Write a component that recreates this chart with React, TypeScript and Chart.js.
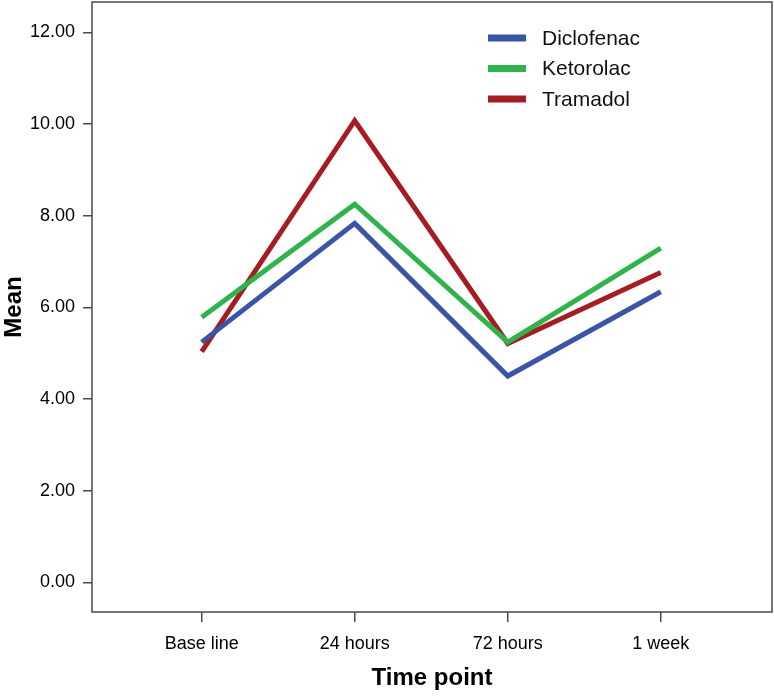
import React, { useEffect, useRef } from 'react';
import { Chart, registerables } from 'chart.js';
Chart.register(...registerables);

const timePoints = ['Base line', '24 hours', '72 hours', '1 week'];
const diclofenac = [5.24, 7.83, 4.5, 6.34];
const ketorolac = [5.78, 8.25, 5.24, 7.29];
const tramadol = [5.03, 10.07, 5.21, 6.76];
const yTicks = [0, 2, 4, 6, 8, 10, 12];
const seriesNames = ['Diclofenac', 'Ketorolac', 'Tramadol'];
const seriesColors = ['#3b55a6', '#2fb34b', '#a51c22'];

const frameColor = '#4a4a4a';
const tickFont = '"Liberation Sans", Arial, sans-serif';

const framePlugin = {
  id: 'frame',
  afterDraw(chart: any) {
    const { ctx, chartArea } = chart;
    ctx.save();
    ctx.strokeStyle = frameColor;
    ctx.lineWidth = 1.5;
    ctx.strokeRect(chartArea.left, chartArea.top, chartArea.right - chartArea.left, chartArea.bottom - chartArea.top);
    ctx.restore();
  },
};

const legendPlugin = {
  id: 'customLegend',
  afterDraw(chart: any) {
    const { ctx } = chart;
    ctx.save();
    chart.data.datasets.forEach((ds: any, i: number) => {
      const y = 38 + i * 30.5;
      ctx.strokeStyle = ds.borderColor;
      ctx.lineWidth = 7;
      ctx.beginPath();
      ctx.moveTo(488, y);
      ctx.lineTo(526, y);
      ctx.stroke();
      ctx.fillStyle = '#111';
      ctx.font = '21px "Liberation Sans", Arial, sans-serif';
      ctx.textBaseline = 'middle';
      ctx.textAlign = 'left';
      ctx.fillText(ds.label, 542, y + 1);
    });
    ctx.restore();
  },
};

export default function App() {
  const ref = useRef<HTMLCanvasElement>(null);
  useEffect(() => {
    if (!ref.current) return;
    const seriesValues = [diclofenac, ketorolac, tramadol];
    const chart = new Chart(ref.current, {
      type: 'line',
      data: {
        datasets: seriesValues.map((vals, i) => ({
          label: seriesNames[i],
          data: vals.map((v, j) => ({ x: j, y: v })),
          borderColor: seriesColors[i],
          backgroundColor: seriesColors[i],
          borderWidth: 5,
          pointRadius: 0,
          tension: 0,
          fill: false,
          borderJoinStyle: 'miter',
        })),
      },
      options: {
        responsive: false,
        animation: false,
        layout: { padding: { top: 2, right: 2, left: 0, bottom: 0 } },
        plugins: {
          legend: { display: false },
          tooltip: { enabled: false },
        },
        scales: {
          x: {
            type: 'linear',
            min: -0.717,
            max: 3.727,
            afterBuildTicks: (scale: any) => {
              scale.ticks = timePoints.map((_, i) => ({ value: i }));
            },
            afterFit: (scale: any) => {
              scale.height = 86;
              scale.paddingLeft = 0;
              scale.paddingRight = 0;
            },
            ticks: {
              callback: (v: any) => timePoints[v] ?? '',
              color: '#000',
              font: { family: tickFont, size: 18 },
              padding: 11,
              maxRotation: 0,
              autoSkip: false,
            },
            grid: { drawOnChartArea: false, drawTicks: true, tickLength: 10, color: frameColor, lineWidth: 1.5 },
            border: { display: false },
            title: {
              display: true,
              text: 'Time point',
              color: '#000',
              font: { family: '"Liberation Sans", Arial, sans-serif', size: 24, weight: 'bold' },
              padding: { top: 0, bottom: 5 },
            },
          },
          y: {
            type: 'linear',
            min: -0.648,
            max: 12.66,
            afterBuildTicks: (scale: any) => {
              scale.ticks = yTicks.map((v) => ({ value: v }));
            },
            afterFit: (scale: any) => {
              scale.width = 92;
              scale.paddingTop = 0;
              scale.paddingBottom = 0;
            },
            ticks: {
              callback: (v: any) => Number(v).toFixed(2),
              color: '#000',
              font: { family: tickFont, size: 18 },
              padding: 8,
            },
            grid: { drawOnChartArea: false, drawTicks: true, tickLength: 9, color: frameColor, lineWidth: 1.5 },
            border: { display: false },
            title: {
              display: true,
              text: 'Mean',
              color: '#000',
              font: { family: '"Liberation Sans", Arial, sans-serif', size: 24, weight: 'bold' },
              padding: { top: 0, bottom: 0 },
            },
          },
        },
      },
      plugins: [framePlugin, legendPlugin],
    });
    return () => chart.destroy();
  }, []);
  return (
    <div style={{ position: 'absolute', left: 0, top: 0, width: 774, height: 698, background: '#fff' }}>
      <canvas ref={ref} width={774} height={698} style={{ display: 'block' }} />
    </div>
  );
}
